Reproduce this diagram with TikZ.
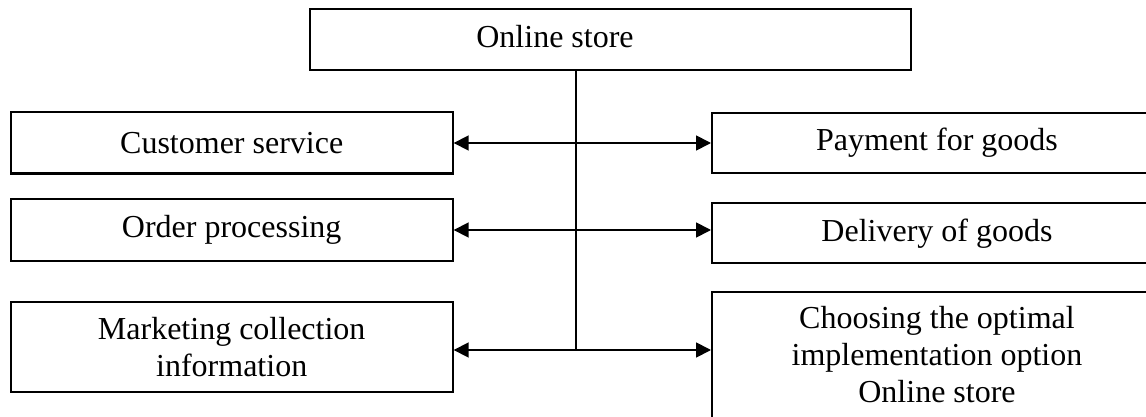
\documentclass[tikz,border=0pt]{standalone}
\usepackage{fontspec}
\setmainfont{Liberation Serif}
\usetikzlibrary{arrows.meta,calc}
\begin{document}
\begin{tikzpicture}[x=1pt,y=-1pt,
  box/.style={draw=black,line width=2pt,rectangle,inner sep=0pt,align=center,
    font=\fontsize{32}{37}\selectfont},
  lbl/.style={inner sep=0pt,font=\fontsize{32}{37}\selectfont},
  link/.style={line width=1.8pt,{Triangle[length=15pt,width=15pt]}-{Triangle[length=15pt,width=15pt]}},
  trunk/.style={line width=1.1pt}]
  \clip (0,0) rectangle (1146,417);
  \fill[white] (0,0) rectangle (1146,417);

  % top box with its title set left of centre
  \node[box,minimum width=601pt,minimum height=61pt] (store) at (610.5,39.5) {};
  \node[lbl] (storetxt) at (555,37) {Online store};

  % left column
  \node[box,minimum width=442pt,minimum height=61pt] (cust) at (231.7,143) {Customer service};
  \node[box,minimum width=442pt,minimum height=61.5pt] (order) at (231.7,230) {Order processing};
  \node[box,minimum width=442pt,minimum height=89.5pt] (mkt) at (231.7,347) {Marketing collection\\information};

  % right column (runs past the right edge)
  \node[box,minimum width=450pt,minimum height=60pt] (pay) at (937,142.6) {Payment for goods};
  \node[box,minimum width=450pt,minimum height=60pt] (deliv) at (937,233.3) {Delivery of goods};
  \node[box,minimum width=450pt,minimum height=126pt] (choose) at (937,355) {Choosing the optimal\\implementation option\\Online store};

  % trunk and branches
  \coordinate (j1) at (576,143);
  \coordinate (j2) at (576,230);
  \coordinate (j3) at (576,350);
  \draw[trunk] (store.south -| j3) -- (j3);
  \draw[link] (cust.east |- j1) -- (j1 -| pay.west);
  \draw[link] (order.east |- j2) -- (j2 -| deliv.west);
  \draw[link] (mkt.east |- j3) -- (j3 -| choose.west);
\end{tikzpicture}
\end{document}
